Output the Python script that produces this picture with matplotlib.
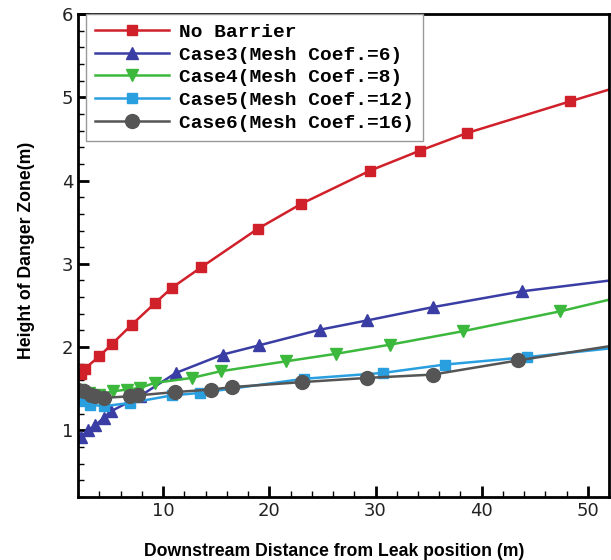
import matplotlib
matplotlib.use("Agg")
import matplotlib.pyplot as plt
from matplotlib.ticker import MultipleLocator

# --- datos
x_nb = [2.3, 2.6, 4.0, 5.2, 7.05, 9.25, 10.8, 13.6, 18.9, 23.0, 29.5, 34.2, 38.6, 48.3, 54.0]
y_nb = [1.68, 1.74, 1.89, 2.04, 2.27, 2.53, 2.71, 2.96, 3.42, 3.72, 4.12, 4.36, 4.57, 4.95, 5.17]

x_c3 = [2.25, 2.95, 3.6, 4.4, 5.1, 7.8, 11.2, 15.6, 19.0, 24.8, 29.2, 35.4, 43.8, 54.0]
y_c3 = [0.92, 1.0, 1.06, 1.15, 1.23, 1.41, 1.69, 1.91, 2.02, 2.21, 2.32, 2.48, 2.67, 2.83]

x_c4 = [2.2, 3.0, 4.0, 5.3, 6.6, 7.8, 9.2, 12.7, 15.4, 21.6, 26.3, 31.4, 38.2, 47.4, 54.0]
y_c4 = [1.48, 1.45, 1.43, 1.47, 1.49, 1.51, 1.57, 1.63, 1.71, 1.83, 1.92, 2.03, 2.19, 2.43, 2.63]

x_c5 = [2.35, 3.1, 4.4, 6.9, 10.8, 13.5, 23.3, 30.7, 36.5, 44.3, 54.0]
y_c5 = [1.35, 1.31, 1.29, 1.33, 1.42, 1.45, 1.62, 1.69, 1.79, 1.88, 2.01]

x_c6 = [2.0, 2.5, 3.2, 3.6, 4.4, 6.9, 7.6, 11.1, 14.5, 16.5, 23.1, 29.2, 35.4, 43.4, 54.0]
y_c6 = [1.49, 1.47, 1.43, 1.41, 1.39, 1.41, 1.42, 1.46, 1.49, 1.52, 1.58, 1.63, 1.67, 1.84, 2.05]

labels = ["No Barrier", "Case3(Mesh Coef.=6)", "Case4(Mesh Coef.=8)",
          "Case5(Mesh Coef.=12)", "Case6(Mesh Coef.=16)"]

fig = plt.figure(figsize=(6.11, 5.6), dpi=100)
ax = fig.add_axes([0.128, 0.1125, 0.869, 0.8625])

ax.plot(x_nb, y_nb, color="#d0202a", lw=1.8, marker="s", ms=7, label=labels[0])
ax.plot(x_c3, y_c3, color="#3a3ea4", lw=1.8, marker="^", ms=8, label=labels[1])
ax.plot(x_c4, y_c4, color="#3cb83c", lw=1.8, marker="v", ms=8, label=labels[2])
ax.plot(x_c5, y_c5, color="#2a9fe0", lw=1.8, marker="s", ms=7, label=labels[3])
ax.plot(x_c6, y_c6, color="#555555", lw=1.8, marker="o", ms=10, label=labels[4])

ax.set_xlim(2, 52)
ax.set_ylim(0.2, 6)
ax.xaxis.set_major_locator(MultipleLocator(10))
ax.xaxis.set_minor_locator(MultipleLocator(2))
ax.yaxis.set_major_locator(MultipleLocator(1))
ax.yaxis.set_minor_locator(MultipleLocator(0.2))
ax.tick_params(which="both", direction="in", top=False, right=False,
               labelsize=13, labelcolor="#222222", width=1.5)
ax.tick_params(which="major", length=8, width=2)
ax.tick_params(which="minor", length=4, width=1)
for s in ax.spines.values():
    s.set_linewidth(2)

ax.set_xlabel("Downstream Distance from Leak position (m)", fontsize=12.7,
              fontweight="bold", family="Liberation Sans", labelpad=17)
ax.set_ylabel("Height of Danger Zone(m)", fontsize=12.7,
              fontweight="bold", family="Liberation Sans", labelpad=19)
ax.xaxis.label.set_x(0.482)
ax.yaxis.label.set_y(0.51)

leg = ax.legend(loc="upper left", bbox_to_anchor=(0.014, 1.0), borderaxespad=0,
                fancybox=False,
                prop={"family": "Liberation Mono", "weight": "bold", "size": 14},
                handlelength=3.8, handletextpad=0.5, labelspacing=0.26,
                borderpad=0.48, framealpha=1)
leg.get_frame().set_edgecolor("#999999")
leg.get_frame().set_linewidth(1)

fig.savefig("out.png", dpi=100)
